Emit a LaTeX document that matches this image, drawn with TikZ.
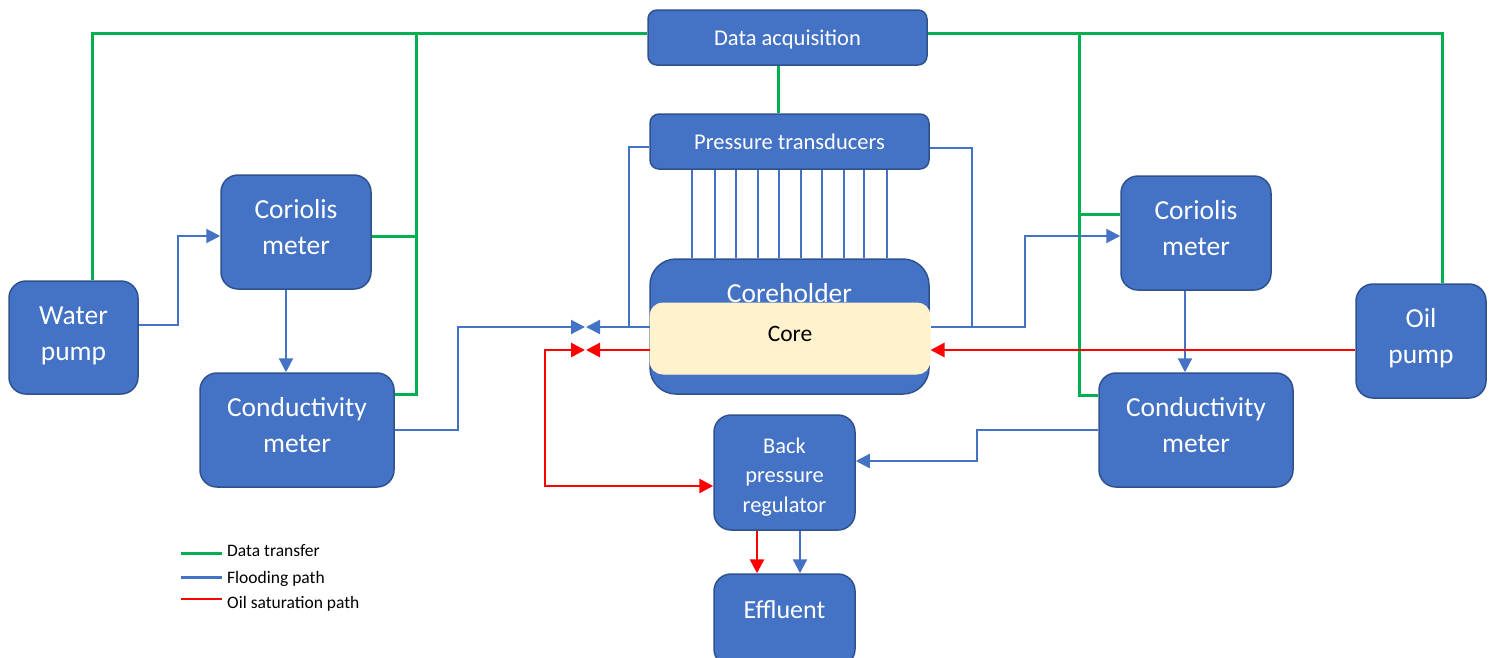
\documentclass[tikz,border=0pt]{standalone}
\usepackage{fontspec}
\setmainfont{Carlito}
\usetikzlibrary{arrows.meta}
\definecolor{boxblue}{HTML}{4472C4}
\definecolor{boxedge}{HTML}{2F528F}
\definecolor{flowblue}{HTML}{4472C4}
\definecolor{datagreen}{HTML}{00B050}
\definecolor{oilred}{HTML}{FF0000}
\definecolor{corecream}{HTML}{FFF2CC}
\tikzset{
  box/.style={rounded corners=17pt, fill=boxblue, draw=boxedge, line width=1.5pt,
    text=white, align=center, inner sep=0pt, anchor=base, font=\fontsize{27.5}{36}\selectfont},
  bigbox/.style={box, text height=79pt, text depth=#1},
  smallbox/.style={box, rounded corners=9pt, text height=35pt, text depth=20pt,
    font=\fontsize{22.5}{26}\selectfont},
  datal/.style={draw=datagreen, line width=3pt},
  floodl/.style={draw=flowblue, line width=2.2pt},
  oill/.style={draw=oilred, line width=2.8pt},
  tip/.style={-{Triangle[length=14pt,width=14pt]}},
  tips/.style={{Triangle[length=14pt,width=14pt]}-{Triangle[length=14pt,width=14pt]}},
  legtext/.style={anchor=west, inner sep=0pt, font=\fontsize{17.5}{20}\selectfont}
}
\begin{document}
\begin{tikzpicture}[x=1pt,y=-1pt]
\useasboundingbox (0,0) rectangle (1494,657);

% nodes
\node[smallbox, minimum width=279pt] (da) at (787.5,45) {Data acquisition};
\node[smallbox, minimum width=279pt] (pt) at (789.5,149) {Pressure transducers};
\node[box, rounded corners=26pt, minimum width=279pt, text height=43pt, text depth=92pt] (ch) at (789.5,302) {Coreholder};
\node[rounded corners=13pt, fill=corecream, draw=corecream, line width=1pt, minimum width=280pt,
      anchor=base, text height=38pt, text depth=33pt, inner sep=0pt,
      font=\fontsize{23.5}{26}\selectfont] (core) at (790,341) {Core};

\node[bigbox=34pt, minimum width=129pt] (wp) at (73.5,360) {Water\\pump};
\node[bigbox=35pt, minimum width=150pt] (cl) at (296,254) {Coriolis\\meter};
\node[bigbox=35pt, minimum width=194pt] (kl) at (297,452) {Conductivity\\meter};
\node[bigbox=35pt, minimum width=150pt] (cr) at (1196,255) {Coriolis\\meter};
\node[bigbox=35pt, minimum width=130pt] (op) at (1421,363) {Oil\\pump};
\node[bigbox=35pt, minimum width=194pt] (kr) at (1196,452) {Conductivity\\meter};
\node[box, minimum width=141pt, text height=97pt, text depth=18pt,
      font=\fontsize{22.4}{29.5}\selectfont] (bpr) at (784.5,512) {Back\\pressure\\regulator};
\node[box, minimum width=141pt, text height=44pt, text depth=48pt,
      font=\fontsize{26}{30}\selectfont] (ef) at (784.5,618) {Effluent};

% helper coordinates
\coordinate (gtop) at (0,33);
\coordinate (vbl) at (585,327);
\coordinate (vbr) at (586,327);
\coordinate (vrl) at (585,350);
\coordinate (vrr) at (586,350);

% data transfer (green)
\draw[datal] (gtop -| da.west) -- (gtop -| 92,0) -- (wp.north -| 92,0);
\draw[datal] (gtop -| 416,0) -- (416,394) -- (kl.east |- 0,394);
\draw[datal] (416,236) -- (cl.east |- 0,236);
\draw[datal] (da.south -| 778,0) -- (pt.north -| 778,0);
\draw[datal] (gtop -| da.east) -- (gtop -| 1442,0) -- (op.north -| 1442,0);
\draw[datal] (gtop -| 1079,0) -- (1079,395) -- (kr.west |- 0,395);
\draw[datal] (1079,214) -- (cr.west |- 0,214);

% flooding path (blue)
\draw[floodl, tip] (wp.east |- 0,325) -- (178,325) -- (178,236) -- (cl.west |- 0,236);
\draw[floodl, tip] (cl.south -| 286,0) -- (kl.north -| 286,0);
\draw[floodl, tip] (kl.east |- 0,430) -- (458,430) -- (458,327) -- (vbl);
\draw[floodl, tip] (core.west |- vbr) -- (vbr);
\draw[floodl] (629,327) -- (629,147) -- (pt.west |- 0,147);
\draw[floodl] (pt.east |- 0,148) -- (972,148) -- (972,327);
\draw[floodl, tip] (core.east |- 0,327) -- (1025,327) -- (1025,236) -- (cr.west |- 0,236);
\draw[floodl, tip] (cr.south -| 1185,0) -- (kr.north -| 1185,0);
\draw[floodl, tip] (kr.west |- 0,430) -- (977,430) -- (977,461) -- (bpr.east |- 0,461);
\draw[floodl, tip] (bpr.south -| 800,0) -- (ef.north -| 800,0);
\foreach \x in {692,715,736,758,779,801,822,844,864,887}
  \draw[floodl, line width=2pt] (pt.south -| \x,0) -- (ch.north -| \x,0);

% oil saturation path (red)
\draw[oill, tip] (op.west |- 0,350) -- (core.east |- 0,350);
\draw[oill, tip] (core.west |- vrr) -- (vrr);
\draw[oill, tips] (vrl) -- (545,350) -- (545,486) -- (bpr.west |- 0,486);
\draw[oill, tip] (bpr.south -| 757,0) -- (ef.north -| 757,0);

% legend
\node[legtext] (lg1) at (227,551) {Data transfer};
\node[legtext] (lg2) at (227,579) {Flooding path};
\node[legtext] (lg3) at (227,604) {Oil saturation path};
\draw[datal] ([xshift=-46pt,yshift=-2pt]lg1.west) -- ([xshift=-5pt,yshift=-2pt]lg1.west);
\draw[floodl, line width=3pt] ([xshift=-46pt,yshift=2pt]lg2.west) -- ([xshift=-5pt,yshift=2pt]lg2.west);
\draw[oill] ([xshift=-46pt,yshift=5pt]lg3.west) -- ([xshift=-5pt,yshift=5pt]lg3.west);
\end{tikzpicture}
\end{document}
